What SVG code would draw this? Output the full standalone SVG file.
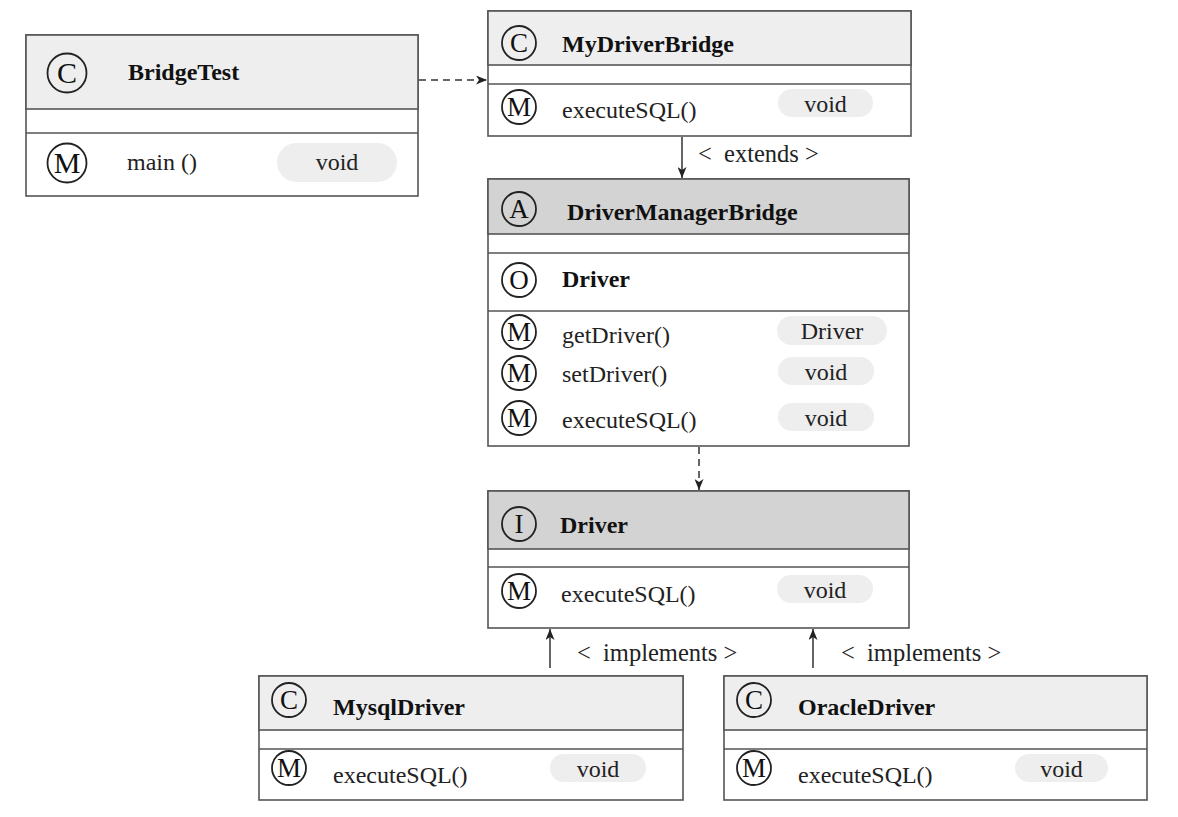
<svg xmlns="http://www.w3.org/2000/svg" width="1178" height="817" viewBox="0 0 1178 817">
<style>
.box{fill:#ffffff;stroke:#555555;stroke-width:1.6}
.hl{fill:#eeeeee;stroke:#555555;stroke-width:1.6}
.hd{fill:#d3d3d3;stroke:#555555;stroke-width:1.6}
.sep{stroke:#555555;stroke-width:1.6}
.ic{fill:none;stroke:#222222;stroke-width:1.8}
.il{font-family:"Liberation Serif",serif;font-size:27px;fill:#111111;text-anchor:middle}
.t{font-family:"Liberation Serif",serif;font-size:24px;fill:#222222}
.lb{font-family:"Liberation Serif",serif;font-size:24.5px;fill:#222222;white-space:pre}
.tb{font-family:"Liberation Serif",serif;font-size:24px;font-weight:bold;fill:#111111}
.pill{fill:#eeeeee}
.pt{font-family:"Liberation Serif",serif;font-size:24px;fill:#222222;text-anchor:middle}
.con{stroke:#333333;stroke-width:1.5;fill:none}
.dash{stroke-dasharray:7 5}
</style>
<defs>
<marker id="ah" viewBox="0 0 11 9" refX="11" refY="4.5" markerWidth="11" markerHeight="9" markerUnits="userSpaceOnUse" orient="auto">
<path d="M0,0 L11,4.5 L0,9 L3,4.5 Z" fill="#222222"/>
</marker>
</defs>
<rect width="1178" height="817" fill="#ffffff"/>

<g id="connectors">
<line class="con dash" x1="419" y1="80" x2="487" y2="80" marker-end="url(#ah)"/>
<line class="con" x1="682" y1="137" x2="682" y2="178" marker-end="url(#ah)"/>
<text class="lb" x="698" y="162" xml:space="preserve">&lt;  extends &gt;</text>
<line class="con dash" x1="699" y1="447" x2="699" y2="490" marker-end="url(#ah)"/>
<line class="con" x1="550" y1="668" x2="550" y2="629" marker-end="url(#ah)"/>
<text class="lb" x="577" y="661" xml:space="preserve">&lt;  implements &gt;</text>
<line class="con" x1="813" y1="668" x2="813" y2="629" marker-end="url(#ah)"/>
<text class="lb" x="841" y="661" xml:space="preserve">&lt;  implements &gt;</text>
</g>

<g id="BridgeTest">
<rect class="box" x="26" y="35" width="392" height="161"/>
<rect class="hl" x="26" y="35" width="392" height="74"/>
<line class="sep" x1="26" y1="133" x2="418" y2="133"/>
<circle class="ic" cx="67" cy="73" r="19.5"/>
<text class="il" x="67" y="83" style="font-size:30px">C</text>
<text class="tb" x="128" y="80">BridgeTest</text>
<circle class="ic" cx="67" cy="163" r="19.5"/>
<text class="il" x="67" y="173" style="font-size:30px">M</text>
<text class="t" x="127" y="170">main ()</text>
<rect class="pill" x="277" y="143" width="120" height="39" rx="19.5"/>
<text class="pt" x="337" y="170">void</text>
</g>

<g id="MyDriverBridge">
<rect class="box" x="488" y="11" width="423" height="125"/>
<rect class="hl" x="488" y="11" width="423" height="54"/>
<line class="sep" x1="488" y1="84" x2="911" y2="84"/>
<circle class="ic" cx="519" cy="43" r="17"/>
<text class="il" x="519" y="52">C</text>
<text class="tb" x="562" y="52">MyDriverBridge</text>
<circle class="ic" cx="519" cy="107" r="17"/>
<text class="il" x="519" y="116">M</text>
<text class="t" x="562" y="118">executeSQL()</text>
<rect class="pill" x="778" y="89" width="95" height="28" rx="14"/>
<text class="pt" x="825.5" y="112">void</text>
</g>

<g id="DriverManagerBridge">
<rect class="box" x="488" y="179" width="421" height="267"/>
<rect class="hd" x="488" y="179" width="421" height="55"/>
<line class="sep" x1="488" y1="253" x2="909" y2="253"/>
<line class="sep" x1="488" y1="311" x2="909" y2="311"/>
<circle class="ic" cx="519" cy="209" r="17"/>
<text class="il" x="519" y="218">A</text>
<text class="tb" x="567" y="220">DriverManagerBridge</text>
<circle class="ic" cx="519" cy="280" r="17"/>
<text class="il" x="519" y="289">O</text>
<text class="tb" x="562" y="287">Driver</text>
<circle class="ic" cx="519" cy="332" r="17"/>
<text class="il" x="519" y="341">M</text>
<text class="t" x="562" y="343">getDriver()</text>
<rect class="pill" x="777" y="316" width="110" height="29" rx="14.5"/>
<text class="pt" x="832" y="339">Driver</text>
<circle class="ic" cx="519" cy="373" r="17"/>
<text class="il" x="519" y="382">M</text>
<text class="t" x="562" y="382">setDriver()</text>
<rect class="pill" x="778" y="357" width="96" height="28" rx="14"/>
<text class="pt" x="826" y="380">void</text>
<circle class="ic" cx="519" cy="418" r="17"/>
<text class="il" x="519" y="427">M</text>
<text class="t" x="562" y="428">executeSQL()</text>
<rect class="pill" x="778" y="403" width="96" height="28" rx="14"/>
<text class="pt" x="826" y="426">void</text>
</g>

<g id="Driver">
<rect class="box" x="488" y="491" width="421" height="137"/>
<rect class="hd" x="488" y="491" width="421" height="58"/>
<line class="sep" x1="488" y1="567" x2="909" y2="567"/>
<circle class="ic" cx="519" cy="524" r="17"/>
<text class="il" x="519" y="533">I</text>
<text class="tb" x="560" y="533">Driver</text>
<circle class="ic" cx="519" cy="591" r="17"/>
<text class="il" x="519" y="600">M</text>
<text class="t" x="561" y="602">executeSQL()</text>
<rect class="pill" x="777" y="575" width="96" height="28" rx="14"/>
<text class="pt" x="825" y="598">void</text>
</g>

<g id="MysqlDriver">
<rect class="box" x="259" y="676" width="424" height="124"/>
<rect class="hl" x="259" y="676" width="424" height="54"/>
<line class="sep" x1="259" y1="749" x2="683" y2="749"/>
<circle class="ic" cx="289" cy="700" r="17"/>
<text class="il" x="289" y="709">C</text>
<text class="tb" x="333" y="715">MysqlDriver</text>
<circle class="ic" cx="289" cy="768" r="17"/>
<text class="il" x="289" y="777">M</text>
<text class="t" x="333" y="783">executeSQL()</text>
<rect class="pill" x="550" y="754" width="96" height="28" rx="14"/>
<text class="pt" x="598" y="777">void</text>
</g>

<g id="OracleDriver">
<rect class="box" x="724" y="676" width="423" height="124"/>
<rect class="hl" x="724" y="676" width="423" height="54"/>
<line class="sep" x1="724" y1="749" x2="1147" y2="749"/>
<circle class="ic" cx="754" cy="700" r="17"/>
<text class="il" x="754" y="709">C</text>
<text class="tb" x="798" y="715">OracleDriver</text>
<circle class="ic" cx="754" cy="768" r="17"/>
<text class="il" x="754" y="777">M</text>
<text class="t" x="798" y="783">executeSQL()</text>
<rect class="pill" x="1015" y="754" width="93" height="28" rx="14"/>
<text class="pt" x="1061.5" y="777">void</text>
</g>
</svg>
